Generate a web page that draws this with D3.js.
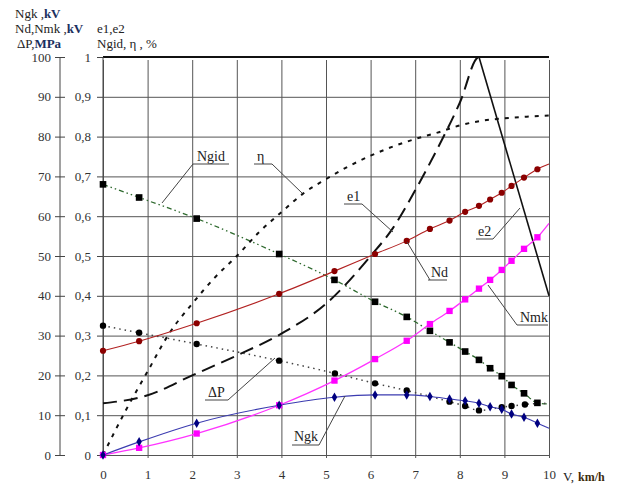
<!DOCTYPE html>
<html>
<head>
<meta charset="utf-8">
<script src="https://d3js.org/d3.v7.min.js"></script>
<style>
body { margin: 0; background: #fff; }
</style>
</head>
<body>
<div id="chart"></div>
<script>
// speed points where the measured curves have markers
var vPts = [0, 0.81, 2.1, 3.95, 5.19, 6.1, 6.81, 7.33, 7.77, 8.12, 8.43, 8.68, 8.94, 9.16, 9.44, 9.74];

var ngid = [68, 64.7, 59.4, 50.5, 44, 38.5, 34.7, 31.2, 28.3, 26, 23.9, 21.8, 19.8, 17.6, 15.5, 13.1];
var nd   = [26.2, 28.6, 33.1, 40.5, 46.2, 50.5, 53.8, 56.8, 58.9, 61.1, 62.6, 64.2, 65.9, 67.6, 69.7, 71.8];
var nmk  = [0, 1.8, 5.4, 12.5, 18.7, 24.1, 28.7, 32.9, 36.2, 39.1, 41.8, 44, 46.5, 48.8, 51.8, 54.7];
var ngk  = [0, 3.3, 8.0, 12.5, 14.5, 15.1, 15.1, 14.7, 14.1, 13.6, 13.0, 12.1, 11.5, 10.3, 9.5, 8.0];

var dpV  = [0, 0.81, 2.1, 3.95, 5.2, 6.1, 6.81, 7.77, 8.12, 8.43, 8.94, 9.16, 9.46];
var dp   = [32.5, 30.7, 27.9, 23.7, 20.5, 18, 16.2, 13.4, 12.3, 11.2, 12.0, 12.3, 12.7];

// line ends at V = 10 (no marker)
var endVals = {ngid: 12.8, nd: 73.1, nmk: 58.2, ngk: 6.7, dp: 13};

var etaV = [0, 0.5, 1, 1.5, 2, 2.5, 3, 3.5, 4, 4.5, 5, 5.5, 6, 6.5, 7, 7.5, 8, 8.5, 9, 9.5, 10];
var eta  = [0, 11, 21, 30.8, 38, 44.5, 50, 56, 61, 65.8, 69.3, 72.5, 75.2, 77.5, 79.4, 81, 82.8, 84, 84.6, 85, 85.3];

var e1V = [0, 1, 2, 3, 4, 5, 6, 6.5, 7, 7.5, 8, 8.43, 10];
var e1  = [13, 15, 20, 25, 30.5, 38, 50, 57, 66.5, 77, 88.5, 100, 100];

var e2V = [8.43, 10];
var e2  = [100, 40];

var leftTicks = [0, 10, 20, 30, 40, 50, 60, 70, 80, 90, 100];
var rightTicks = ["0", "0,1", "0,2", "0,3", "0,4", "0,5", "0,6", "0,7", "0,8", "0,9", "1"];
var xTicks = [0, 1, 2, 3, 4, 5, 6, 7, 8, 9, 10];

var W = 620, H = 486;
var svg = d3.select("#chart").append("svg").attr("width", W).attr("height", H);

var x = d3.scaleLinear().domain([0, 10]).range([103, 549]);
var y = d3.scaleLinear().domain([0, 100]).range([455, 57]);

// grid
svg.append("g")
    .attr("transform", "translate(0,455)")
    .call(d3.axisBottom(x).tickValues(xTicks).tickSize(-(455 - 57)).tickFormat(""))
    .call(function(g) {
        g.select(".domain").remove();
        g.selectAll("line").attr("stroke", "#555").attr("y2", 3 - (455 - 57)).attr("y1", 3);
    });
svg.append("g")
    .attr("transform", "translate(103,0)")
    .call(d3.axisLeft(y).tickValues(leftTicks).tickSize(-(549 - 103)).tickFormat(""))
    .call(function(g) {
        g.select(".domain").remove();
        g.selectAll("line").attr("stroke", "#555");
    });
svg.append("line").attr("x1", 103).attr("x2", 549).attr("y1", 57).attr("y2", 57)
    .attr("stroke", "#111").attr("stroke-width", 2);

// inner axis 0..1
var inner = svg.append("g").attr("transform", "translate(103,0)")
    .call(d3.axisLeft(y).tickValues(leftTicks).tickSize(6).tickPadding(6)
        .tickFormat(function(d, i) { return rightTicks[i]; }));
inner.select(".domain").attr("stroke", "#444").attr("d", "M0,57V455");
inner.selectAll("line").attr("stroke", "#444");
inner.selectAll("text").style("font-size", "13px").attr("fill", "#333");

// outer axis 0..100
var outer = svg.append("g").attr("transform", "translate(60,0)")
    .call(d3.axisLeft(y).tickValues(leftTicks).tickSize(5).tickPadding(4));
outer.select(".domain").attr("stroke", "#444").attr("d", "M0,57V455");
outer.selectAll(".tick line").attr("stroke", "#444").attr("x1", 5).attr("x2", -5);
outer.selectAll("text").style("font-size", "13px").attr("fill", "#333");

// x axis labels
var xa = svg.append("g").attr("transform", "translate(0,455)")
    .call(d3.axisBottom(x).tickValues(xTicks).tickSize(0).tickPadding(15));
xa.select(".domain").remove();
xa.selectAll("text").style("font-size", "13px").attr("fill", "#333");

svg.append("text").attr("x", 563).attr("y", 481).style("font-size", "13px").text("V,");
svg.append("text").attr("x", 578).attr("y", 481).style("font-weight", "bold").style("font-size", "12px")
    .attr("fill", "#3b2b0b").text("km/h");

// axis titles
var t1 = svg.append("text").attr("x", 15).attr("y", 18).style("font-size", "13px");
t1.append("tspan").text("Ngk ,");
t1.append("tspan").style("font-weight", "bold").attr("fill", "#1a3060").text("kV");
var t2 = svg.append("text").attr("x", 15).attr("y", 33).style("font-size", "13px");
t2.append("tspan").text("Nd,Nmk ,");
t2.append("tspan").style("font-weight", "bold").attr("fill", "#1a3060").text("kV");
var t3 = svg.append("text").attr("x", 17).attr("y", 48).style("font-size", "13px");
t3.append("tspan").text("\u0394P,");
t3.append("tspan").style("font-weight", "bold").attr("fill", "#1a3060").text("MPa");
svg.append("text").attr("x", 97).attr("y", 33).style("font-size", "13px").text("e1,e2");
svg.append("text").attr("x", 97).attr("y", 48).style("font-size", "13px").text("Ngid, \u03b7 ,  %");

function pts(xs, ys, endY) {
    var p = xs.map(function(v, i) { return [v, ys[i]]; });
    if (endY !== undefined) p.push([10, endY]);
    return p;
}
var line = d3.line().x(function(d) { return x(d[0]); }).y(function(d) { return y(d[1]); })
    .curve(d3.curveMonotoneX);
var straight = d3.line().x(function(d) { return x(d[0]); }).y(function(d) { return y(d[1]); });

function drawLine(data, color, width, dash, gen) {
    svg.append("path").datum(data).attr("d", gen || line).attr("fill", "none")
        .attr("stroke", color).attr("stroke-width", width).attr("stroke-dasharray", dash || null);
}

drawLine(pts(vPts, ngid, endVals.ngid), "#2f6a2f", 1.3, "5,3,1.5,3,1.5,3");
drawLine(pts(dpV, dp, endVals.dp), "#444", 1.5, "1.5,4");
drawLine(pts(etaV, eta), "#111", 2, "4,6");
drawLine(pts(e1V, e1), "#111", 2, "14,7");
drawLine(pts(e2V, e2), "#111", 1.6, null, straight);
drawLine(pts(vPts, nd, endVals.nd), "#b22222", 1.1);
drawLine(pts(vPts, nmk, endVals.nmk), "#ff33ff", 1.3);
drawLine(pts(vPts, ngk, endVals.ngk), "#3b3bb0", 1.1);

// markers
function marks(xs, ys, type, size, color) {
    svg.append("g").selectAll("path").data(xs).enter().append("path")
        .attr("d", d3.symbol().type(type).size(size))
        .attr("transform", function(d, i) { return "translate(" + x(d) + "," + y(ys[i]) + ")"; })
        .attr("fill", color);
}
marks(vPts, ngid, d3.symbolSquare, 44, "#000");
marks(dpV, dp, d3.symbolCircle, 32, "#000");
marks(vPts, nd, d3.symbolCircle, 30, "#8b0000");
marks(vPts, nmk, d3.symbolSquare, 40, "#ff00ff");
marks(vPts, ngk, d3.symbolDiamond, 26, "#000080");

// labels with leader lines
var labels = [
    {t: "Ngid", tx: 197, ty: 161, ul: [193, 229], uy: 164, tip: [162, 203], from: [193, 164]},
    {t: "\u03b7", tx: 257, ty: 161, ul: [254, 272], uy: 164, tip: [302, 193], from: [272, 164]},
    {t: "e1", tx: 347, ty: 201, ul: [344, 362], uy: 204, tip: [393, 232], from: [362, 204]},
    {t: "Nd", tx: 431, ty: 277, ul: [428, 447], uy: 280, tip: [407, 242], from: [430, 280]},
    {t: "e2", tx: 478, ty: 236, ul: [476, 493], uy: 239, tip: [520, 208], from: [493, 239]},
    {t: "Nmk", tx: 520, ty: 322, ul: [517, 548], uy: 325, tip: [488, 285], from: [517, 325]},
    {t: "\u0394P", tx: 208, ty: 397, ul: [205, 228], uy: 400, tip: [275, 358], from: [228, 400]},
    {t: "Ngk", tx: 294, ty: 441, ul: [292, 319], uy: 445, tip: [345, 396], from: [319, 445]}
];
labels.forEach(function(l) {
    svg.append("rect").attr("x", l.tx - 1).attr("y", l.ty - 11).attr("width", l.ul[1] - l.tx + 1)
        .attr("height", 13).attr("fill", "#fff");
    svg.append("text").attr("x", l.tx).attr("y", l.ty).style("font-size", "14px").text(l.t);
    svg.append("line").attr("x1", l.ul[0]).attr("x2", l.ul[1]).attr("y1", l.uy).attr("y2", l.uy)
        .attr("stroke", "#444");
    svg.append("line").attr("x1", l.from[0]).attr("y1", l.from[1]).attr("x2", l.tip[0]).attr("y2", l.tip[1])
        .attr("stroke", "#444");
});

// serif font everywhere
svg.selectAll("g").attr("font-family", null);
svg.selectAll("text").style("font-family", "'Liberation Serif'");
svg.selectAll("text").filter(function() { return !this.getAttribute("fill"); }).attr("fill", "#222");
</script>
</body>
</html>
